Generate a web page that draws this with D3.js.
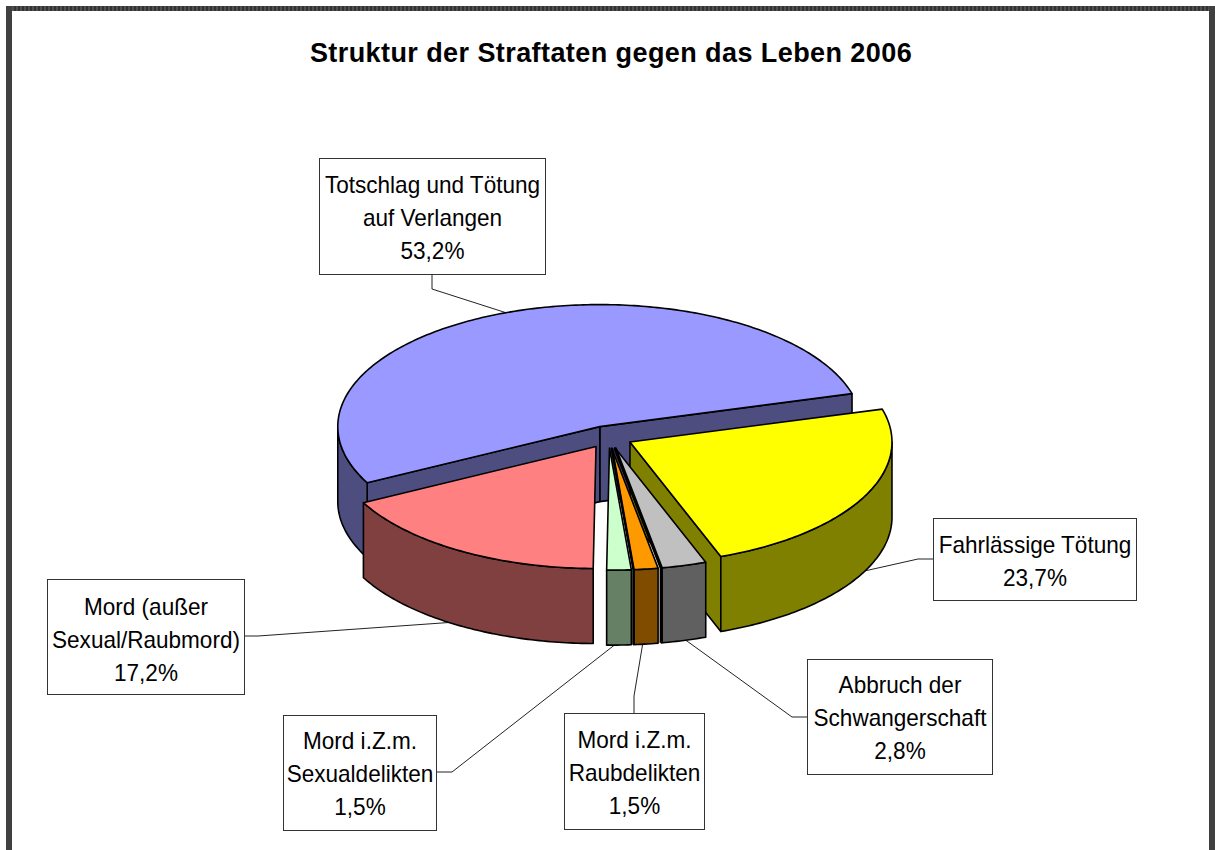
<!DOCTYPE html>
<html lang="de"><head><meta charset="utf-8">
<style>html,body{margin:0;padding:0;background:#fff;overflow:hidden}svg{display:block}text{font-family:"Liberation Sans",Arial,sans-serif;fill:#000}</style>
<script src="https://cdn.jsdelivr.net/npm/d3@7"></script>
</head><body><svg id="c" width="1215" height="850"></svg>
<script>
const title = "Struktur der Straftaten gegen das Leben 2006";
const categories = ["Totschlag und Tötung auf Verlangen","Fahrlässige Tötung","Abbruch der Schwangerschaft","Mord i.Z.m. Raubdelikten","Mord i.Z.m. Sexualdelikten","Mord (außer Sexual/Raubmord)"];
const values = [53.2,23.7,2.8,1.5,1.5,17.2];
const valueLabels = ["53,2%","23,7%","2,8%","1,5%","1,5%","17,2%"];
const labelLines = [["Totschlag und Tötung","auf Verlangen"],["Fahrlässige Tötung"],["Abbruch der","Schwangerschaft"],["Mord i.Z.m.","Raubdelikten"],["Mord i.Z.m.","Sexualdelikten"],["Mord (außer","Sexual/Raubmord)"]];
const colors = ["#9999FF","#FFFF00","#C0C0C0","#FF9900","#CCFFCC","#FF8080"];

// layout (separate from the data)
const W=1215,H=850, cx=608.6, cy=437, rx=262, ry=122, depth=75, explode=24/262;
const startDeg=-117.4;
const boxes=[[319,158,226,116,185],[933,518,203,82,545],[807,659,185,115,685],[564,713,140,116,740],[283,715,153,115,741],[47,579,197,115,607]];
const leaders=[[[432,274],[432,289],[510,314]],[[933,559],[918,559],[860,572]],[[807,717],[792,717],[680,636]],[[634,713],[634,696],[644,636]],[[436,772],[452,772],[626,636]],[[244,636],[258,636],[470,621]]];
const paintOrder=[0,1,5,2,3,4];

const svg=d3.select("#c");
const defs=svg.append("defs");
const pat=defs.append("pattern").attr("id","st").attr("patternUnits","userSpaceOnUse").attr("width",4).attr("height",4);
pat.append("rect").attr("width",4).attr("height",4).attr("fill","#333");
pat.append("rect").attr("width",2).attr("height",4).attr("fill","#505050");
svg.append("rect").attr("x",6).attr("y",6).attr("width",1203).attr("height",5).attr("fill","url(#st)");
svg.append("rect").attr("x",6).attr("y",6).attr("width",6).attr("height",844).attr("fill","#404040");
svg.append("rect").attr("x",1209).attr("y",6).attr("width",6).attr("height",844).attr("fill","#404040");

svg.append("text").attr("x",611).attr("y",62).attr("text-anchor","middle")
  .attr("font-size",27).attr("font-weight","bold").attr("letter-spacing",0.42).text(title);

svg.append("g").selectAll("path").data(leaders).join("path")
  .attr("d",d=>d3.line()(d)).attr("fill","none").attr("stroke","#222").attr("stroke-width",1);

const arcs=d3.pie().sort(null).value(d=>d).startAngle(startDeg*Math.PI/180).endAngle((startDeg+360)*Math.PI/180)(values);
const line=d3.line();
const dark=c=>{const r=d3.rgb(c);return d3.rgb(r.r/2,r.g/2,r.b/2).formatHex();};
function pt(o,t,dy=0){return [o[0]+rx*Math.sin(t),o[1]-ry*Math.cos(t)+dy];}
function arcPts(o,a,b,dy=0){const n=Math.max(2,Math.ceil((b-a)/0.015));return d3.range(n+1).map(i=>pt(o,a+(b-a)*i/n,dy));}
const g=svg.append("g").attr("stroke","#000").attr("stroke-width",1.6).attr("stroke-linejoin","round");
const wallLimit=0.2;
paintOrder.forEach(i=>{
  const a=arcs[i], s=a.startAngle, e=a.endAngle, mid=(s+e)/2;
  const o=[cx+explode*rx*Math.sin(mid), cy-explode*ry*Math.cos(mid)];
  const d=dark(colors[i]);
  const wall=t=>[o,pt(o,t),pt(o,t,depth),[o[0],o[1]+depth]];
  if(Math.sin(e)>wallLimit) g.append("path").attr("d",line(wall(e))+"Z").attr("fill",d);
  if(-Math.sin(s)>wallLimit) g.append("path").attr("d",line(wall(s))+"Z").attr("fill",d);
  // outer rim: only the part on the viewer's side (t in 90..270 degrees)
  const norm=t=>((t%(2*Math.PI))+2*Math.PI)%(2*Math.PI);
  let a0=norm(s), a1=a0+(e-s);
  const lo=Math.max(a0,Math.PI/2), hi=Math.min(a1,3*Math.PI/2);
  if(hi>lo){
    const top=arcPts(o,lo,hi), bot=arcPts(o,lo,hi,depth).reverse();
    g.append("path").attr("d",line(top.concat(bot))+"Z").attr("fill",d);
  }
  g.append("path").attr("d",line([o].concat(arcPts(o,s,e)))+"Z").attr("fill",colors[i]);
  // very steep end edges read as a heavy dark seam instead of a wall
  const se=Math.sin(e);
  if(se>0.02 && se<=wallLimit){
    g.append("path").attr("fill","none").attr("stroke-width",se>0.12?3.4:2.6)
      .attr("d",line([o,pt(o,e),pt(o,e,depth)]));
  }
});

const lab=svg.append("g").selectAll("g").data(categories).join("g");
lab.append("rect").attr("x",(d,i)=>boxes[i][0]+.5).attr("y",(d,i)=>boxes[i][1]+.5)
  .attr("width",(d,i)=>boxes[i][2]).attr("height",(d,i)=>boxes[i][3])
  .attr("fill","#fff").attr("stroke","#333").attr("stroke-width",1);
lab.each(function(d,i){
  const b=boxes[i], ls=labelLines[i].concat(valueLabels[i]);
  d3.select(this).selectAll("text").data(ls).join("text")
    .attr("x",b[0]+b[2]/2+.5).attr("y",(t,j)=>b[4]+8+j*33)
    .attr("text-anchor","middle").attr("font-size",24).text(t=>t)
    .each(function(){
      const w=this.getComputedTextLength();
      d3.select(this).attr("lengthAdjust","spacingAndGlyphs").attr("textLength",w*0.939);
    });
});
</script></body></html>
